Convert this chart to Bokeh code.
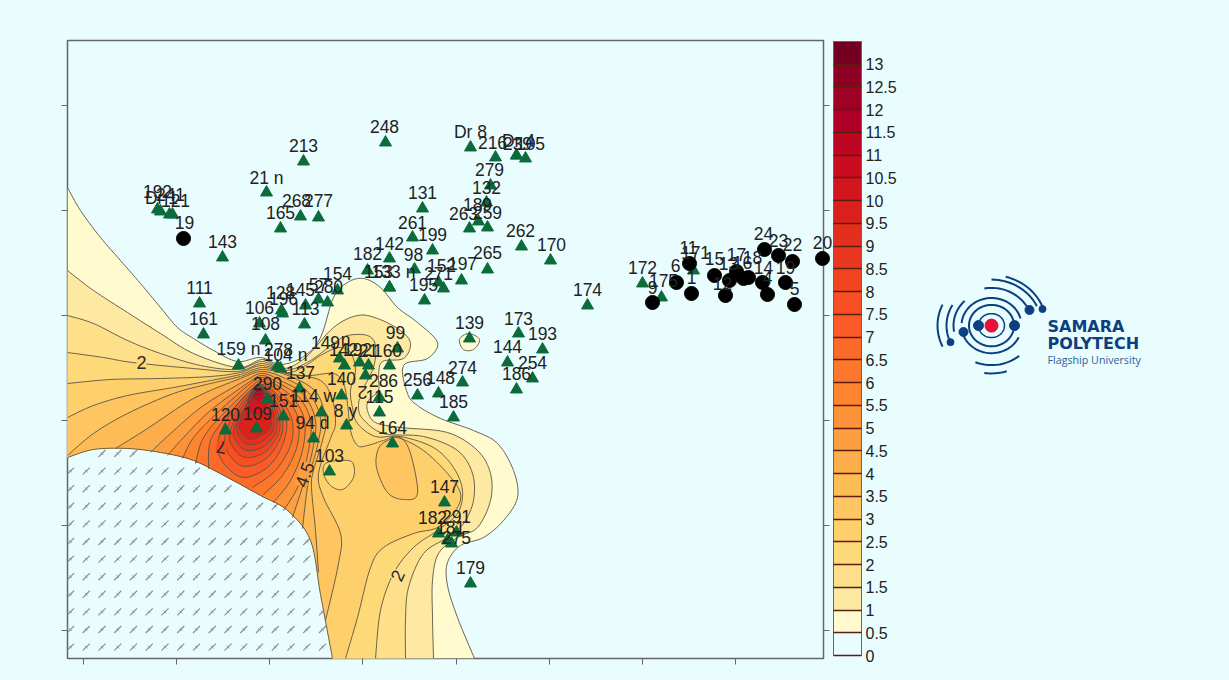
import math
from bokeh.plotting import figure
from bokeh.layouts import row
from bokeh.models import (Range1d, LinearAxis, FixedTicker, ColorBar, LinearColorMapper,
                          NumeralTickFormatter)
from bokeh.core.properties import value
from bokeh.embed import file_html
from bokeh.resources import INLINE

BG = "#E9FDFF"
FONT = "Liberation Sans"

# ---- axis ticks (unlabelled in the source chart)
x_ticks = [83, 176, 269, 362, 456, 549, 642, 735]
y_ticks = [105, 210, 315, 420, 525, 630]

# ---- colour scale
scale_colors = ["#E9FDFF", "#FFFBCF", "#FEE9A2", "#FEE08A", "#FED978", "#FED06C", "#FEC560", "#FDBC55",
                "#FDAE4A", "#FD9F40", "#FD9238", "#FD8530", "#FC762C", "#FC6A2A", "#FB5B26", "#F74F22",
                "#F04420", "#EA3820", "#E42E1E", "#DC201C", "#D2151E", "#C90C20", "#BE0623", "#AE0026",
                "#9E0026", "#8C0024", "#720020"]
scale_ticks = [i * 0.5 for i in range(27)]

# ---- no-data area edge
edge = [(67,457),(93,449),(127,448),(160,452),(193,460),(227,477),(260,495),(287,510),(310,540),(320,594),(332,658)]

# ---- contour lines
L0_5 = [(67,187),(80,210),(100,237),(120,260),(140,283),(160,307),(177,327),(193,338),(213,350),(237,361),(260,357),(280,364),(303,356),(320,337),(333,297),(347,282),(363,278),(380,287),(397,307),(417,322),(437,342),(427,358),(403,365),(407,393),(417,405),(440,418),(473,430),(497,443),(513,470),(517,497),(503,520),(483,537),(460,545),(447,562),(447,585),(457,617),(474,658)]
L1_0 = [(67,270),(93,290),(127,312),(160,333),(193,353),(237,367),(262,359),(283,368),(305,357),(333,327),(357,315),(377,318),(400,330),(410,343),(403,358),(382,361),(378,375),(378,390),(368,400),(367,410),(375,422),(400,427),(447,432),(477,450),(490,473),(490,500),(477,527),(457,537),(438,553),(432,580),(432,617),(433,658)]
L1_5 = [(67,315),(93,323),(127,340),(160,353),(200,365),(237,369),(262,361),(285,370),(310,360),(333,343),(347,335),(367,335),(375,345),(373,367),(362,390),(358,405),(362,418),(383,433),(423,436),(457,450),(472,473),(473,500),(463,523),(447,537),(423,553),(408,587),(405,620),(405,658)]
L2_0 = [(67,352),(103,357),(132,362),(193,368),(237,371),(262,363),(287,372),(305,365),(320,355),(338,347),(350,352),(355,370),(350,390),(352,407),(357,423),(375,436),(400,436),(433,447),(453,467),(462,490),(457,513),(437,530),(413,547),(393,573),(380,610),(375,658)]
L2_5 = [(67,383),(110,379),(160,378),(210,376),(240,372),(262,365),(290,374),(310,375),(333,373),(343,383),(347,403),(350,430),(357,445),(367,445),(383,440),(397,437),(423,450),(447,473),(460,493),(455,510),(437,527),(413,533),(383,547),(370,567),(357,617),(345,658)]
L3_0 = [(67,417),(93,405),(127,395),(173,387),(210,380),(240,374),(262,367),(287,373),(320,380),(332,400),(335,423),(330,438),(318,473),(323,497),(340,533),(338,563),(325,620)]
L3_5 = [(67,455),(93,433),(127,413),(173,393),(210,383),(240,376),(262,369),(290,376),(316,392),(325,420),(322,440),(313,470),(311,487),(315,530),(318,572)]
L4_0 = [(115,448),(147,428),(193,398),(240,378),(262,371),(285,378),(308,392),(320,418),(317,445),(308,480),(302,528)]
L4_5 = [(150,452),(170,433),(203,405),(245,380),(262,373),(280,380),(303,394),(315,420),(312,450),(304,480),(292,517)]
L5_0 = [(167,455),(183,437),(210,410),(248,382),(262,375),(277,382),(298,396),(310,420),(308,450),(298,485),(283,510)]
L5_5 = [(182,458),(193,437),(217,412),(250,383),(262,377),(275,384),(293,398),(304,420),(302,450),(290,480),(273,502)]
L6_0 = [(195,463),(203,437),(223,413),(252,385),(262,379),(272,386),(288,400),(298,420),(296,448),(282,475),(263,494)]
L6_5 = [(208,468),(210,440),(227,415),(254,386),(262,381),(270,387),(283,402),(292,422),(290,445),(275,470),(252,487)]
open_levels = [L0_5, L1_0, L1_5, L2_0, L2_5, L3_0, L3_5, L4_0, L4_5, L5_0, L5_5, L6_0, L6_5]

L7_0 = [(260,384),(280,403),(286,430),(272,462),(245,477),(225,465),(217,443),(232,410)]
L7_5 = [(260,385),(277,404),(282,430),(268,456),(245,466),(230,456),(224,438),(236,410)]
L8_0 = [(260,386),(275,405),(279,430),(265,451),(246,457),(234,449),(229,434),(239,410)]
L8_5 = [(260,386),(273,405),(276,430),(263,446),(247,450),(237,443),(233,430),(242,410)]
L9_0 = [(259,386),(271,405),(273,428),(261,441),(248,444),(240,438),(236,427),(244,409)]
L9_5 = [(259,385),(269,404),(270,426),(259,436),(249,439),(242,433),(239,424),(246,408)]
L10_0 = [(258,384),(267,394),(266,408),(258,414),(250,412),(247,402),(251,391)]
L10_5 = [(258,384),(264,390),(263,398),(258,401),(253,399),(251,394),(253,388)]
L11_0 = [(258,384),(262,388),(261,394),(257,396),(254,394),(253,391),(255,386)]
L11_5 = [(258,384),(261,387),(260,391),(257,392),(255,391),(254,388)]
L12_0 = [(258,384),(260,386),(259,389),(257,389),(255,387)]
L12_5 = [(258,385),(259,386),(258,388),(257,387)]
closed_levels = [L7_0, L7_5, L8_0, L8_5, L9_0, L9_5, L10_0, L10_5, L11_0, L11_5, L12_0, L12_5]

# small closed contours: (points, band index of the fill)
loop_139 = [(459,339),(468,333),(479,339),(473,349),(463,349)]
loop_103 = [(325,463),(340,460),(352,462),(353,477),(342,489),(330,485),(323,473)]
loop_164 = [(387,440),(400,437),(410,453),(417,493),(403,499),(387,492),(376,467),(378,448)]

# ---- stations: triangles
tri_names = ["248","213","Dr 8","216","Dr 4","239","105","279","132","189","263","259","262","170","265","197","174",
    "131","261","199","142","182","98","153","133 n","152","271","195","154","57","280","145","128","196","113","106","108",
    "111","161","143","21 n","165","268","277","192","Dr 1","241","121","159 n","278","104 n","137","290","151","120","109",
    "114 w","94 d","103","140","8 y","149","142","192","21","n","160","99","286","115","256","148","274","185","164","139",
    "173","193","144","254","186","147","182","291","181","275","179","172","175","171"]
tri_x = [385,303,470,495,516,516,525,490,486,478,469,487,521,550,487,461,587,
    422,412,432,389,367,414,389,389,438,443,424,337,318,327,305,281,282,304,259,265,
    199,203,222,266,280,300,318,157,160,169,172,238,280,277,299,267,283,225,256,
    321,313,329,341,346,339,344,368,365,359,389,397,379,379,417,438,462,453,392,469,
    518,542,507,532,516,444,438,456,447,451,470,642,661,693]
tri_y = [142,161,147,157,155,155,158,185,202,221,228,227,246,260,269,280,305,
    208,237,250,258,270,269,287,287,282,288,300,290,299,302,305,310,313,324,323,340,
    303,334,257,192,228,216,217,209,211,214,214,365,368,366,388,399,416,430,428,
    412,438,471,395,425,358,365,365,375,362,365,348,397,412,395,393,382,417,443,338,
    333,349,362,378,389,502,533,532,540,543,583,283,297,270]
tri_lx = [384,303,470,492,518,517,530,489,486,477,463,487,520,551,487,462,587,
    422,412,432,389,367,413,378,393,441,438,423,337,318,328,300,280,283,305,259,265,
    199,203,222,266,280,296,318,157,161,170,175,238,278,285,300,267,283,225,257,
    313,312,329,341,345,325,343,357,368,345,387,395,383,379,417,440,462,453,392,469,
    518,542,507,532,516,444,432,456,450,456,470,642,663,695]
tri_ly = [126,145,131,142,140,143,143,169,187,204,213,212,230,244,252,263,289,
    192,222,234,243,253,254,271,271,265,273,284,273,284,286,289,292,298,308,307,323,
    287,318,241,177,212,200,200,191,197,194,200,348,349,354,372,383,400,414,413,
    395,422,455,378,410,342,349,349,350,339,350,332,380,396,379,377,367,401,427,322,
    318,333,346,362,373,486,517,516,527,537,567,267,280,252]

# ---- stations: black dots
dot_names = ["19","9","6","11","1","15","13","12","17","16","18","14","4","24","23","22","19","5","20"]
dot_x = [183,652,676,689,691,714,729,725,736,743,748,762,767,764,778,792,785,794,822]
dot_y = [238,302,282,263,293,275,280,295,271,278,277,282,294,249,255,261,282,304,258]
dot_lx = [184,652,675,688,691,714,728,722,736,742,752,763,767,763,778,792,785,794,822]
dot_ly = [222,287,265,247,277,258,263,283,254,262,257,267,277,233,240,244,267,288,242]

# ---- numbers written on the contour lines
clab_text = ["2", "2", "4.5", "7", "2"]
clab_x = [141, 397, 304, 221, 362]
clab_y = [362, 575, 474, 447, 392]
clab_angle = [0, 65, 70, 170, 180]
clab_bg = ["#FED978", "#FEE08A", "#FD9F40", "#F74F22", "#FEE08A"]

# ---- logo
logo_arcs = [  # radius, start deg, end deg, line width
    (13, 0, 360, 1.5), (22.5, 0, 360, 2), (30, 15, 175, 2), (30, 190, 335, 2),
    (41, 30, 100, 2), (38, 135, 190, 2), (50, 25, 90, 2), (55, 20, 75, 2),
    (45, 150, 200, 2), (54, 155, 205, 2), (43, 248, 310, 2), (52, 262, 287, 2)]
logo_dot_x = [978, 1014, 963, 1029, 950, 1042]
logo_dot_y = [325, 325, 332, 308, 343, 307]
logo_dot_size = [10, 10, 9, 9, 7, 7]
NAVY = "#0B3F80"


def smooth(pts, closed=False, n=8):
    P = list(pts)
    if closed:
        P = [P[-1]] + P + P[:2]
    else:
        P = [P[0]] + P + [P[-1]]
    out = []
    for i in range(1, len(P) - 2):
        p0, p1, p2, p3 = P[i-1], P[i], P[i+1], P[i+2]
        for k in range(n):
            t = k / n
            out.append(tuple(0.5 * (2*p1[a] + (p2[a]-p0[a])*t + (2*p0[a]-5*p1[a]+4*p2[a]-p3[a])*t*t +
                                    (3*p1[a]-p0[a]-3*p2[a]+p3[a])*t*t*t) for a in (0, 1)))
    out.append(P[-2] if not closed else out[0])
    return out


edge_s = smooth(edge)


def nearest(pt):
    return min(range(len(edge_s)), key=lambda i: (edge_s[i][0]-pt[0])**2 + (edge_s[i][1]-pt[1])**2)


def inside_nodata(x, y):
    for i in range(len(edge_s) - 1):
        (a, b), (c, d) = edge_s[i], edge_s[i+1]
        if a <= x <= c:
            return y > b + (d-b) * (x-a) / max(c-a, 1e-6)
    return False


fig_w, logo_w = 895, 322
p = figure(width=fig_w, height=672, x_range=Range1d(67, 823), y_range=Range1d(658, 40),
           output_backend="svg", toolbar_location=None, x_axis_location="below",
           background_fill_color=BG, border_fill_color=BG, min_border_left=67, min_border_top=40,
           min_border_bottom=14, min_border_right=0, outline_line_color="#666666", outline_line_width=1.5)
p.frame_width = 756
p.frame_height = 618
p.grid.visible = False
for ax, tk in ((p.xaxis[0], x_ticks), (p.yaxis[0], y_ticks)):
    ax.major_label_text_font_size = "8px"
    ax.major_label_overrides = {t: "" for t in tk}
    ax.major_label_standoff = 0
    ax.axis_label = None
    ax.minor_tick_line_color = None
    ax.major_tick_out = 6
    ax.major_tick_in = 0
    ax.major_tick_line_color = "#666666"
    ax.axis_line_color = None
p.xaxis[0].ticker = FixedTicker(ticks=x_ticks)
p.yaxis[0].ticker = FixedTicker(ticks=y_ticks)
right = LinearAxis(ticker=FixedTicker(ticks=y_ticks), major_label_text_font_size="8px", major_label_standoff=0,
                   major_label_overrides={t: "" for t in y_ticks},
                   minor_tick_line_color=None, major_tick_out=6, major_tick_in=0,
                   major_tick_line_color="#666666", axis_line_color=None)
p.add_layout(right, "right")

# hatching of the no-data area
hx, hy = [], []
for r in range(12):
    for c in range(18):
        x, y = 70 + c * 15.75, 453 + r * 17.6
        if inside_nodata(x, y - 3) and y < 655:
            hx.append(x); hy.append(y)
p.scatter(hx, hy, marker="dash", size=10, angle=math.pi/4, line_color="#8F8D90", line_width=1.2)
p.scatter(hx, hy, marker="x", size=4, line_color="#8F8D90", line_width=0.8)

# filled bands, lowest first
xs, ys, colors, lx, ly = [], [], [], [], []
for idx, lvl in enumerate(open_levels):
    s = smooth(lvl)
    end = len(edge_s) - 1 if s[-1][1] >= 657 else nearest(s[-1])
    start = 0 if s[0][0] <= 67 else nearest(s[0])
    back = edge_s[start:end+1][::-1]
    poly = s + back
    xs.append([a for a, b in poly]); ys.append([b for a, b in poly]); colors.append(scale_colors[idx+1])
    lx.append([a for a, b in s]); ly.append([b for a, b in s])
for idx, lvl in enumerate(closed_levels):
    s = smooth(lvl, closed=True)
    xs.append([a for a, b in s]); ys.append([b for a, b in s]); colors.append(scale_colors[idx+14])
    lx.append(xs[-1]); ly.append(ys[-1])
for lvl, band in ((loop_139, 1), (loop_103, 4), (loop_164, 6)):
    s = smooth(lvl, closed=True)
    xs.append([a for a, b in s]); ys.append([b for a, b in s]); colors.append(scale_colors[band])
    lx.append(xs[-1]); ly.append(ys[-1])
lx.append([a for a, b in edge_s]); ly.append([b for a, b in edge_s])
p.patches(xs, ys, fill_color=colors, line_color=None)
p.multi_line(lx, ly, line_color="#5C5344", line_width=1, line_alpha=0.9)

# contour numbers
p.text(clab_x, clab_y, text=clab_text, angle=[a * math.pi / 180 for a in clab_angle], text_align="center",
       text_baseline="middle", text_font=value(FONT), text_font_size="18px", text_color="#2A2A2A",
       background_fill_color=clab_bg)

# stations
p.scatter(tri_x, tri_y, marker="triangle", size=12, fill_color="#0B6B3A", line_color="#0B6B3A", level="overlay")
p.scatter(dot_x, dot_y, marker="circle", size=14, fill_color="#000000", line_color="#000000", level="overlay")
for names, nx, ny in ((tri_names, tri_lx, tri_ly), (dot_names, dot_lx, dot_ly)):
    p.text(nx, ny, text=names, text_align="center", text_baseline="middle", text_font=value(FONT),
           text_font_size="17.5px", text_color="#222222", level="overlay")

# colour scale
mapper = LinearColorMapper(palette=scale_colors, low=0, high=13.5)
cb = ColorBar(color_mapper=mapper, width=28, height=614, ticker=FixedTicker(ticks=scale_ticks),
              formatter=NumeralTickFormatter(format="0.[0]"), major_label_text_font=FONT,
              major_label_text_font_size="16px", major_label_text_color="#222222", label_standoff=4,
              major_tick_in=28, major_tick_line_color="#5A1E10", major_tick_line_width=1.5,
              minor_tick_line_color=None, bar_line_color="#666666", bar_line_width=1,
              background_fill_alpha=0, border_line_color=None, padding=0, margin=4, location=(4, 3))
p.add_layout(cb, "right")

# logo
q = figure(width=logo_w, height=672, x_range=Range1d(899, 1221), y_range=Range1d(687, 15), output_backend="svg",
           toolbar_location=None, background_fill_color=BG, border_fill_color=BG, outline_line_color=None,
           min_border=0, x_axis_type=None, y_axis_type=None)
q.grid.visible = False
for r_, a0, a1, w in logo_arcs:
    n = max(12, int(abs(a1-a0) / 4))
    ang = [math.radians(a0 + (a1-a0) * i / n) for i in range(n+1)]
    q.line([991 + r_*math.cos(a) for a in ang], [325 - r_*math.sin(a) for a in ang], line_color=NAVY, line_width=w)
q.scatter(logo_dot_x, logo_dot_y, size=logo_dot_size, marker="circle", fill_color=NAVY, line_color=NAVY)
q.scatter([991], [325], size=13, marker="circle", fill_color="#E8103A", line_color="#E8103A")
q.text([1047], [326], text=["SAMARA"], text_font=value("DejaVu Sans"), text_font_style="bold", text_font_size="16px",
       text_baseline="middle", text_color=NAVY)
q.text([1047], [345], text=["POLYTECH"], text_font=value("DejaVu Sans"), text_font_style="bold", text_font_size="16px",
       text_baseline="middle", text_color=NAVY)
q.text([1047], [362], text=["Flagship University"], text_font=value("Open Sans"), text_font_size="10.7px",
       text_baseline="middle", text_color="#2F6098")

layout = row(p, q, spacing=0)
html = file_html(layout, INLINE)
html = html.replace("<body>", '<body style="background:%s">' % BG)
open("out.html", "w").write(html)
